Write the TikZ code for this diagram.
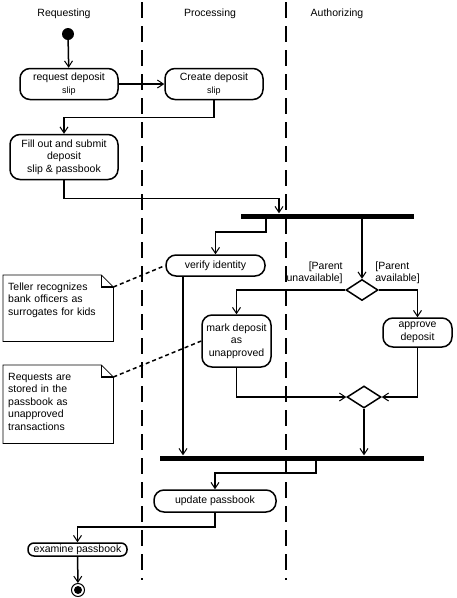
\documentclass[tikz,border=0pt]{standalone}
\usepackage{fontspec}
\setmainfont{Liberation Sans}
\usetikzlibrary{arrows.meta,shapes.geometric}

\begin{document}
\begin{tikzpicture}[x=1pt,y=-1pt,
    every node/.style={font=\fontsize{10.5}{12.5}\selectfont},
    act/.style={draw,line width=1.5pt,rounded corners=10pt,align=center,inner sep=1pt},
    bar/.style={fill,inner sep=0pt,minimum height=5pt},
    choice/.style={draw,diamond,line width=1.5pt,inner sep=0pt},
    notetext/.style={anchor=north west,text width=100pt,align=left,inner xsep=5pt,inner ysep=7pt,text height=8pt},
    flow/.style={line width=1.5pt,-{Straight Barb[length=6pt,width=8pt,line width=1pt]}},
    link/.style={line width=1.5pt,dash pattern=on 4pt off 3pt},
    lane/.style={line width=2pt,dash pattern=on 16pt off 8pt}]

            \path[use as bounding box,fill=white] (0,0) rectangle (456,598);

            % swimlanes
            \draw[lane] (142,2) -- (142,580);
            \draw[lane] (286,2) -- (286,580);
            \node (requesting) at (64,14) {Requesting};
            \node (processing) at (210,14) {Processing};
            \node (authorizing) at (337,14) {Authorizing};

            \node[circle,fill,minimum size=12pt,inner sep=0pt] (start) at (68,34) {};
            \node[act,minimum width=98pt,minimum height=31pt] (request) at (69,84) {request deposit\\{\fontsize{9}{11}\selectfont slip}};
            \node[act,minimum width=98pt,minimum height=31pt] (create) at (214,84) {Create deposit\\{\fontsize{9}{11}\selectfont slip}};
            \node[act,minimum width=108pt,minimum height=45pt] (fill) at (64,157) {Fill out and submit\\deposit\\slip \& passbook};
            \node[bar,minimum width=173pt] (fork) at (327.5,216) {};
            \node[act,minimum width=99pt,minimum height=21pt] (verify) at (215.5,265.5) {verify identity};
            \node[choice,minimum width=32pt,minimum height=21pt] (check) at (362,290) {};
            \node[act,minimum width=69pt,minimum height=52pt] (mark) at (236.5,341) {mark deposit\\as\\unapproved};
            \node[act,minimum width=69pt,minimum height=29pt] (approve) at (417.5,332.5) {approve\\deposit};
            \node[choice,minimum width=34pt,minimum height=22pt] (merge) at (364,397) {};
            \node[bar,minimum width=264pt] (join) at (292,458) {};
            \node[act,minimum width=122pt,minimum height=22pt] (update) at (215,501) {update passbook};
            \node[act,rounded corners=6pt,minimum width=99pt,minimum height=13pt,inner sep=0pt] (examine) at (77.5,549.5) {examine passbook};
            \node[circle,draw,line width=1pt,minimum size=13pt,inner sep=0pt,
                path picture={\fill (path picture bounding box.center) circle (4pt);}] (finish) at (78,590) {};
            \coordinate (verifyout) at ([xshift=-32.5pt]verify.south);

            \draw[flow] (start) -- (request);
            \draw[flow] (request) -- (create);
            \draw[flow] (create.south) -- ++(0,17) -| (fill.north);
            \draw[flow] (fill.south) -- ++(0,18) -| ([xshift=-48.5pt]fork.north);
            \draw[flow] ([xshift=-61.5pt]fork.south) -- ++(0,13.5) -| (verify.north);
            \draw[flow] ([xshift=34.5pt]fork.south) -- (check.north);
            \draw[flow] (check.west) -| node[pos=0,anchor=south east,xshift=1.5pt,yshift=2pt,align=right]{[Parent\\unavailable]} (mark.north);
            \draw[flow] (check.east) -| node[pos=0,anchor=south west,xshift=-7.5pt,yshift=2pt,align=left]{[Parent\\available]} (approve.north);
            \draw[flow] (mark.south) |- (merge.west);
            \draw[flow] (approve.south) |- (merge.east);
            \draw[flow] (merge.south) -- (merge.south |- join.north);
            \draw[flow] (verifyout) -- (verifyout |- join.north);
            \draw[flow] ([xshift=24pt]join.south) -- ++(0,12.5) -| (update.north);
            \draw[flow] (update.south) -- ++(0,14) -| (examine.north);
            \draw[flow] (examine) -- (finish);

            % notes
            \node[notetext,text depth=44pt] (note1) at (3,275) {Teller recognizes\\bank officers as\\surrogates for kids};
            \node[notetext,text depth=56pt] (note2) at (3,365) {Requests are\\stored in the\\passbook as\\unapproved\\transactions};
            \foreach \n in {note1,note2} {
                \draw[line width=0.8pt] (\n.north west) -- ([xshift=-12pt]\n.north east) -- ([yshift=-12pt]\n.north east) -- (\n.south east) -- (\n.south west) -- cycle;
                \draw[line width=1.5pt] ([xshift=-12pt]\n.north east) |- ([yshift=-12pt]\n.north east);
            }
            \draw[link] ([yshift=-12pt]note1.north east) -- (verify.west);
            \draw[link] ([yshift=-12pt]note2.north east) -- (mark.west);

        \end{tikzpicture}
\end{document}
